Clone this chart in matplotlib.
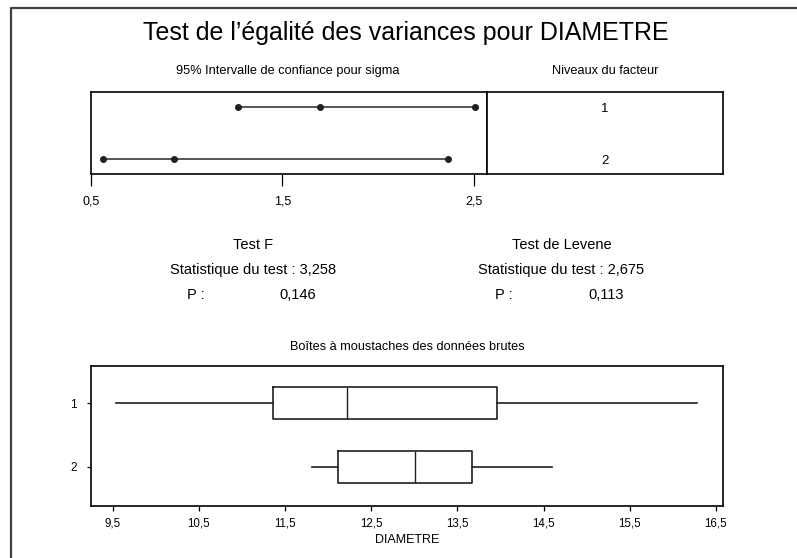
import matplotlib.pyplot as plt
from matplotlib.lines import Line2D

plt.rcParams['font.family'] = ['Liberation Sans', 'DejaVu Sans']

# intervalles de confiance 95% pour sigma
levels = [1, 2]
ci_low = [1.271, 0.564]
ci_sigma = [1.695, 0.936]
ci_high = [2.508, 2.366]
ci_ticks = [0.5, 1.5, 2.5]
ci_ticklabels = ['0,5', '1,5', '2,5']

# boites a moustaches des donnees brutes
box_whislo = [9.54, 11.81]
box_q1 = [11.36, 12.11]
box_med = [12.22, 13.01]
box_q3 = [13.96, 13.67]
box_whishi = [16.28, 14.60]
box_ticks = [9.5, 10.5, 11.5, 12.5, 13.5, 14.5, 15.5, 16.5]
box_ticklabels = ['9,5', '10,5', '11,5', '12,5', '13,5', '14,5', '15,5', '16,5']

# tests
f_stat = '3,258'
f_p = '0,146'
lev_stat = '2,675'
lev_p = '0,113'

W, H = 797, 558


def fx(px):
    return px / W


def fy(py):
    return 1 - py / H


def rect(x0, y0, x1, y1):
    return [fx(x0), fy(y1), fx(x1) - fx(x0), fy(y0) - fy(y1)]


fig = plt.figure(figsize=(W / 100, H / 100), dpi=100)

# cadre exterieur
fig.add_artist(Line2D([fx(11), fx(11), fx(800)], [fy(560), fy(8), fy(8)],
                      color='#404040', lw=1.6))

fig.text(fx(405.5), fy(33), "Test de l\u2019égalité des variances pour DIAMETRE",
         ha='center', va='center', fontsize=18)
fig.text(fx(288), fy(71), '95% Intervalle de confiance pour sigma',
         ha='center', va='center', fontsize=9.2)
fig.text(fx(605), fy(71), 'Niveaux du facteur',
         ha='center', va='center', fontsize=9.2)

# panneau IC
ax1 = fig.add_axes(rect(91, 92, 487, 174))
for i, lv in enumerate(levels):
    ax1.plot([ci_low[i], ci_high[i]], [lv, lv], color='#383838', lw=1.2)
    ax1.plot([ci_low[i], ci_sigma[i], ci_high[i]], [lv, lv, lv], 'o',
             color='#202020', ms=4)
ax1.set_xlim(0.5, 2.57)
ax1.set_ylim(2.287, 0.719)
ax1.set_yticks([])
ax1.set_xticks(ci_ticks)
ax1.set_xticklabels(ci_ticklabels, fontsize=9)
ax1.tick_params(axis='x', length=8.5, width=0.9, pad=7)
for s in ax1.spines.values():
    s.set_linewidth(1.2)

ax2 = fig.add_axes(rect(487, 92, 723, 174))
ax2.set_xlim(0, 1)
ax2.set_ylim(2.287, 0.719)
ax2.set_xticks([])
ax2.set_yticks([])
for lv in levels:
    ax2.text(0.5, lv + 0.04, str(lv), ha='center', va='center', fontsize=9.5)
for s in ax2.spines.values():
    s.set_linewidth(1.2)

# resultats des tests
fs = 10.5
fig.text(fx(253), fy(245), 'Test F', ha='center', va='center', fontsize=fs)
fig.text(fx(253), fy(270), 'Statistique du test : ' + f_stat,
         ha='center', va='center', fontsize=fs)
fig.text(fx(187), fy(295), 'P :', ha='left', va='center', fontsize=fs)
fig.text(fx(279), fy(295), f_p, ha='left', va='center', fontsize=fs)
fig.text(fx(561.5), fy(245), 'Test de Levene', ha='center', va='center', fontsize=fs)
fig.text(fx(561), fy(270), 'Statistique du test : ' + lev_stat,
         ha='center', va='center', fontsize=fs)
fig.text(fx(495), fy(295), 'P :', ha='left', va='center', fontsize=fs)
fig.text(fx(588), fy(295), lev_p, ha='left', va='center', fontsize=fs)

fig.text(fx(407), fy(347), 'Boîtes à moustaches des données brutes',
         ha='center', va='center', fontsize=9.2)

# boites a moustaches
ax3 = fig.add_axes(rect(91, 366, 723.3, 505.7))
stats = []
for i in range(len(levels)):
    stats.append({'whislo': box_whislo[i], 'q1': box_q1[i], 'med': box_med[i],
                  'q3': box_q3[i], 'whishi': box_whishi[i], 'fliers': []})
ax3.bxp(stats, positions=levels, orientation='horizontal', widths=0.5,
        showcaps=False, showfliers=False,
        boxprops=dict(color='#202020', lw=1.2),
        whiskerprops=dict(color='#202020', lw=1.2),
        medianprops=dict(color='#202020', lw=1.0))
ax3.set_xlim(9.248, 16.585)
ax3.set_ylim(2.61, 0.413)
ax3.set_xticks(box_ticks)
ax3.set_xticklabels(box_ticklabels, fontsize=8.3)
ax3.set_yticks(levels)
ax3.set_yticklabels([str(lv) for lv in levels], fontsize=8.5)
ax3.tick_params(axis='x', length=3.5, width=0.9, pad=5)
ax3.tick_params(axis='y', length=3, width=0.9, pad=7)
ax3.set_xlabel('DIAMETRE', fontsize=9, labelpad=3)
for s in ax3.spines.values():
    s.set_linewidth(1.2)

fig.savefig('out.png', dpi=100)
